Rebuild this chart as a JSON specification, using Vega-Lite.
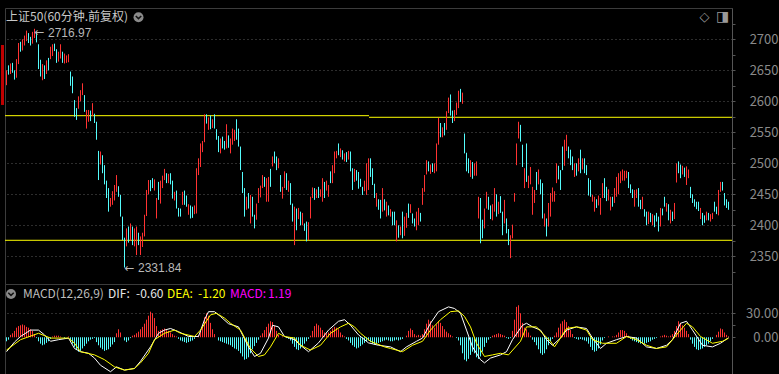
{
"$schema":"https://vega.github.io/schema/vega-lite/v6.json",
"background":"#000000",
"padding":{"left":0,"top":7,"right":2,"bottom":0},
"spacing":0,
"bounds":"flush",
"config":{"view":{"stroke":"#3c3c3c","strokeWidth":1},"axis":{"domainColor":"#555555","tickColor":"#555555","gridColor":"#5a5a5a","gridDash":[1,3],"labelColor":"#8a8a8a","labelFont":"Noto Sans CJK SC","labelFontSize":13,"tickSize":3,"labelOverlap":false},"text":{"font":"Noto Sans CJK SC"}},
"datasets":{
"k":[
{"i":0,"o":2628,"h":2650,"l":2626,"c":2648,"m":-5},{"i":1,"o":2655,"h":2658,"l":2643,"c":2645,"m":-3},{"i":2,"o":2646,"h":2661,"l":2644,"c":2658,"m":3},{"i":3,"o":2658,"h":2662,"l":2646,"c":2648,"m":5},{"i":4,"o":2648,"h":2650,"l":2635,"c":2638,"m":8},{"i":5,"o":2640,"h":2668,"l":2638,"c":2665,"m":12},{"i":6,"o":2664,"h":2694,"l":2660,"c":2690,"m":14},{"i":7,"o":2692,"h":2696,"l":2680,"c":2684,"m":15},{"i":8,"o":2684,"h":2700,"l":2682,"c":2697,"m":16},{"i":9,"o":2694,"h":2706,"l":2690,"c":2703,"m":15},
{"i":10,"o":2700,"h":2714,"l":2697,"c":2712,"m":13},{"i":11,"o":2708,"h":2710,"l":2694,"c":2698,"m":12},{"i":12,"o":2700,"h":2704,"l":2690,"c":2693,"m":10},{"i":13,"o":2695,"h":2712,"l":2693,"c":2710,"m":8},{"i":14,"o":2706,"h":2716.97,"l":2702,"c":2714,"m":4},{"i":15,"o":2710,"h":2712,"l":2695,"c":2698,"m":-1},{"i":16,"o":2690,"h":2692,"l":2652,"c":2660,"m":-5},{"i":17,"o":2662,"h":2667,"l":2640,"c":2645,"m":-8},{"i":18,"o":2638,"h":2660,"l":2634,"c":2655,"m":-10},{"i":19,"o":2656,"h":2658,"l":2636,"c":2642,"m":-9},
{"i":20,"o":2645,"h":2666,"l":2644,"c":2662,"m":-7},{"i":21,"o":2668,"h":2670,"l":2650,"c":2655,"m":-5},{"i":22,"o":2670,"h":2688,"l":2668,"c":2685,"m":-2},{"i":23,"o":2676,"h":2692,"l":2673,"c":2690,"m":1},{"i":24,"o":2691,"h":2693,"l":2681,"c":2684,"m":2},{"i":25,"o":2682,"h":2684,"l":2662,"c":2668,"m":2},{"i":26,"o":2666,"h":2680,"l":2664,"c":2676,"m":2},{"i":27,"o":2672,"h":2692,"l":2669,"c":2690,"m":1},{"i":28,"o":2678,"h":2680,"l":2662,"c":2666,"m":0},{"i":29,"o":2665,"h":2677,"l":2661,"c":2672,"m":-1},
{"i":30,"o":2664,"h":2674,"l":2662,"c":2670,"m":0},{"i":31,"o":2666,"h":2676,"l":2663,"c":2674,"m":1},{"i":32,"o":2646,"h":2648,"l":2625,"c":2628,"m":-4},{"i":33,"o":2635,"h":2640,"l":2613,"c":2618,"m":-8},{"i":34,"o":2600,"h":2602,"l":2575,"c":2580,"m":-12},{"i":35,"o":2585,"h":2589,"l":2570,"c":2572,"m":-16},{"i":36,"o":2590,"h":2608,"l":2588,"c":2606,"m":-18},{"i":37,"o":2602,"h":2618,"l":2600,"c":2615,"m":-17},{"i":38,"o":2612,"h":2629,"l":2610,"c":2628,"m":-14},{"i":39,"o":2608,"h":2610,"l":2583,"c":2585,"m":-11},
{"i":40,"o":2558,"h":2586,"l":2556,"c":2584,"m":-8},{"i":41,"o":2570,"h":2586,"l":2567,"c":2584,"m":-5},{"i":42,"o":2582,"h":2585,"l":2568,"c":2570,"m":-3},{"i":43,"o":2578,"h":2597,"l":2576,"c":2595,"m":-2},{"i":44,"o":2578,"h":2580,"l":2565,"c":2567,"m":-1},{"i":45,"o":2566,"h":2567,"l":2538,"c":2540,"m":-6},{"i":46,"o":2518,"h":2520,"l":2473,"c":2480,"m":-10},{"i":47,"o":2500,"h":2519,"l":2498,"c":2517,"m":-13},{"i":48,"o":2511,"h":2513,"l":2484,"c":2486,"m":-15},{"i":49,"o":2495,"h":2497,"l":2466,"c":2470,"m":-17},
{"i":50,"o":2470,"h":2472,"l":2444,"c":2448,"m":-16},{"i":51,"o":2458,"h":2460,"l":2422,"c":2428,"m":-15},{"i":52,"o":2433,"h":2444,"l":2430,"c":2442,"m":-12},{"i":53,"o":2436,"h":2455,"l":2433,"c":2452,"m":-9},{"i":54,"o":2445,"h":2465,"l":2440,"c":2463,"m":-6},{"i":55,"o":2456,"h":2481,"l":2454,"c":2478,"m":5},{"i":56,"o":2460,"h":2463,"l":2446,"c":2448,"m":10},{"i":57,"o":2445,"h":2449,"l":2414,"c":2418,"m":6},{"i":58,"o":2412,"h":2414,"l":2376,"c":2380,"m":0},{"i":59,"o":2378,"h":2380,"l":2331.84,"c":2345,"m":-4},
{"i":60,"o":2368,"h":2395,"l":2366,"c":2390,"m":-6},{"i":61,"o":2395,"h":2398,"l":2372,"c":2378,"m":-4},{"i":62,"o":2378,"h":2403,"l":2375,"c":2400,"m":-1},{"i":63,"o":2395,"h":2398,"l":2368,"c":2372,"m":2},{"i":64,"o":2370,"h":2395,"l":2366,"c":2390,"m":3},{"i":65,"o":2360,"h":2398,"l":2352,"c":2392,"m":5},{"i":66,"o":2385,"h":2388,"l":2368,"c":2372,"m":7},{"i":67,"o":2358,"h":2382,"l":2352,"c":2380,"m":10},{"i":68,"o":2370,"h":2388,"l":2365,"c":2385,"m":13},{"i":69,"o":2384,"h":2417,"l":2382,"c":2412,"m":17},
{"i":70,"o":2418,"h":2457,"l":2415,"c":2450,"m":22},{"i":71,"o":2452,"h":2473,"l":2450,"c":2468,"m":27},{"i":72,"o":2470,"h":2473,"l":2455,"c":2460,"m":32},{"i":73,"o":2474,"h":2476,"l":2460,"c":2464,"m":30},{"i":74,"o":2460,"h":2474,"l":2456,"c":2470,"m":24},{"i":75,"o":2414,"h":2444,"l":2411,"c":2440,"m":14},{"i":76,"o":2466,"h":2470,"l":2441,"c":2445,"m":8},{"i":77,"o":2438,"h":2472,"l":2435,"c":2470,"m":9},{"i":78,"o":2465,"h":2480,"l":2460,"c":2478,"m":10},{"i":79,"o":2476,"h":2491,"l":2473,"c":2488,"m":11},
{"i":80,"o":2482,"h":2484,"l":2468,"c":2472,"m":9},{"i":81,"o":2470,"h":2483,"l":2468,"c":2480,"m":8},{"i":82,"o":2482,"h":2484,"l":2466,"c":2470,"m":6},{"i":83,"o":2468,"h":2472,"l":2443,"c":2446,"m":4},{"i":84,"o":2442,"h":2454,"l":2440,"c":2452,"m":2},{"i":85,"o":2454,"h":2456,"l":2427,"c":2432,"m":1},{"i":86,"o":2426,"h":2428,"l":2414,"c":2418,"m":-2},{"i":87,"o":2425,"h":2427,"l":2414,"c":2416,"m":-4},{"i":88,"o":2434,"h":2454,"l":2433,"c":2452,"m":-5},{"i":89,"o":2452,"h":2456,"l":2433,"c":2436,"m":-6},
{"i":90,"o":2446,"h":2448,"l":2430,"c":2432,"m":-7},{"i":91,"o":2420,"h":2434,"l":2417,"c":2432,"m":-6},{"i":92,"o":2430,"h":2432,"l":2411,"c":2414,"m":-5},{"i":93,"o":2428,"h":2430,"l":2412,"c":2416,"m":-4},{"i":94,"o":2420,"h":2432,"l":2418,"c":2428,"m":-2},{"i":95,"o":2420,"h":2492,"l":2419,"c":2490,"m":0},{"i":96,"o":2484,"h":2508,"l":2481,"c":2506,"m":3},{"i":97,"o":2496,"h":2532,"l":2494,"c":2530,"m":8},{"i":98,"o":2520,"h":2536,"l":2518,"c":2534,"m":15},{"i":99,"o":2536,"h":2579,"l":2534,"c":2577,"m":25},
{"i":100,"o":2577,"h":2579,"l":2564,"c":2566,"m":30},{"i":101,"o":2558,"h":2574,"l":2554,"c":2570,"m":27},{"i":102,"o":2575,"h":2577,"l":2555,"c":2558,"m":18},{"i":103,"o":2560,"h":2571,"l":2557,"c":2568,"m":10},{"i":104,"o":2570,"h":2579,"l":2556,"c":2560,"m":4},{"i":105,"o":2552,"h":2555,"l":2538,"c":2540,"m":0},{"i":106,"o":2540,"h":2544,"l":2518,"c":2525,"m":-4},{"i":107,"o":2518,"h":2540,"l":2516,"c":2534,"m":-5},{"i":108,"o":2540,"h":2543,"l":2524,"c":2528,"m":-6},{"i":109,"o":2533,"h":2536,"l":2522,"c":2526,"m":-7},
{"i":110,"o":2526,"h":2563,"l":2524,"c":2560,"m":-8},{"i":111,"o":2540,"h":2545,"l":2525,"c":2528,"m":-9},{"i":112,"o":2518,"h":2540,"l":2516,"c":2536,"m":-10},{"i":113,"o":2534,"h":2556,"l":2530,"c":2552,"m":-12},{"i":114,"o":2540,"h":2554,"l":2536,"c":2550,"m":-14},{"i":115,"o":2566,"h":2571,"l":2538,"c":2542,"m":-15},{"i":116,"o":2552,"h":2556,"l":2527,"c":2530,"m":-17},{"i":117,"o":2525,"h":2527,"l":2489,"c":2492,"m":-20},{"i":118,"o":2484,"h":2486,"l":2452,"c":2456,"m":-24},{"i":119,"o":2458,"h":2460,"l":2414,"c":2418,"m":-28},
{"i":120,"o":2427,"h":2446,"l":2425,"c":2444,"m":-27},{"i":121,"o":2450,"h":2452,"l":2427,"c":2430,"m":-25},{"i":122,"o":2405,"h":2449,"l":2403,"c":2446,"m":-20},{"i":123,"o":2444,"h":2446,"l":2414,"c":2418,"m":-15},{"i":124,"o":2415,"h":2417,"l":2395,"c":2398,"m":-11},{"i":125,"o":2412,"h":2435,"l":2409,"c":2432,"m":-7},{"i":126,"o":2440,"h":2460,"l":2436,"c":2458,"m":-3},{"i":127,"o":2448,"h":2464,"l":2445,"c":2462,"m":2},{"i":128,"o":2463,"h":2481,"l":2460,"c":2478,"m":5},{"i":129,"o":2476,"h":2478,"l":2462,"c":2465,"m":9},
{"i":130,"o":2442,"h":2476,"l":2438,"c":2474,"m":13},{"i":131,"o":2445,"h":2478,"l":2438,"c":2470,"m":17},{"i":132,"o":2488,"h":2491,"l":2462,"c":2466,"m":20},{"i":133,"o":2496,"h":2511,"l":2495,"c":2508,"m":19},{"i":134,"o":2516,"h":2519,"l":2500,"c":2502,"m":14},{"i":135,"o":2508,"h":2511,"l":2489,"c":2492,"m":8},{"i":136,"o":2494,"h":2508,"l":2492,"c":2505,"m":3},{"i":137,"o":2478,"h":2481,"l":2454,"c":2458,"m":0},{"i":138,"o":2445,"h":2462,"l":2443,"c":2460,"m":1},{"i":139,"o":2462,"h":2487,"l":2460,"c":2484,"m":0},
{"i":140,"o":2480,"h":2484,"l":2457,"c":2462,"m":-1},{"i":141,"o":2456,"h":2472,"l":2454,"c":2470,"m":-2},{"i":142,"o":2466,"h":2468,"l":2433,"c":2438,"m":-4},{"i":143,"o":2432,"h":2435,"l":2406,"c":2410,"m":-8},{"i":144,"o":2372,"h":2430,"l":2368,"c":2428,"m":-12},{"i":145,"o":2424,"h":2427,"l":2392,"c":2398,"m":-15},{"i":146,"o":2412,"h":2428,"l":2410,"c":2426,"m":-16},{"i":147,"o":2418,"h":2422,"l":2400,"c":2404,"m":-14},{"i":148,"o":2402,"h":2420,"l":2400,"c":2418,"m":-11},{"i":149,"o":2401,"h":2403,"l":2391,"c":2393,"m":-8},
{"i":150,"o":2404,"h":2406,"l":2374,"c":2378,"m":-5},{"i":151,"o":2380,"h":2405,"l":2376,"c":2402,"m":-2},{"i":152,"o":2412,"h":2446,"l":2411,"c":2444,"m":2},{"i":153,"o":2446,"h":2461,"l":2444,"c":2458,"m":8},{"i":154,"o":2458,"h":2460,"l":2441,"c":2444,"m":14},{"i":155,"o":2446,"h":2458,"l":2444,"c":2455,"m":17},{"i":156,"o":2460,"h":2462,"l":2444,"c":2446,"m":15},{"i":157,"o":2448,"h":2458,"l":2446,"c":2456,"m":12},{"i":158,"o":2440,"h":2476,"l":2438,"c":2472,"m":9},{"i":159,"o":2465,"h":2470,"l":2444,"c":2448,"m":6},
{"i":160,"o":2458,"h":2472,"l":2456,"c":2470,"m":5},{"i":161,"o":2448,"h":2465,"l":2446,"c":2462,"m":6},{"i":162,"o":2484,"h":2487,"l":2468,"c":2470,"m":8},{"i":163,"o":2470,"h":2497,"l":2468,"c":2494,"m":11},{"i":164,"o":2488,"h":2519,"l":2484,"c":2515,"m":13},{"i":165,"o":2510,"h":2520,"l":2508,"c":2518,"m":12},{"i":166,"o":2530,"h":2532,"l":2513,"c":2516,"m":10},{"i":167,"o":2512,"h":2524,"l":2510,"c":2520,"m":6},{"i":168,"o":2518,"h":2521,"l":2506,"c":2508,"m":3},{"i":169,"o":2505,"h":2516,"l":2503,"c":2514,"m":1},
{"i":170,"o":2516,"h":2518,"l":2502,"c":2504,"m":-2},{"i":171,"o":2508,"h":2520,"l":2506,"c":2518,"m":-4},{"i":172,"o":2516,"h":2519,"l":2487,"c":2490,"m":-7},{"i":173,"o":2490,"h":2492,"l":2457,"c":2460,"m":-10},{"i":174,"o":2472,"h":2491,"l":2470,"c":2488,"m":-12},{"i":175,"o":2486,"h":2489,"l":2472,"c":2474,"m":-14},{"i":176,"o":2482,"h":2486,"l":2459,"c":2462,"m":-13},{"i":177,"o":2472,"h":2475,"l":2462,"c":2464,"m":-11},{"i":178,"o":2460,"h":2462,"l":2449,"c":2450,"m":-9},{"i":179,"o":2458,"h":2472,"l":2455,"c":2470,"m":-7},
{"i":180,"o":2452,"h":2500,"l":2449,"c":2495,"m":-5},{"i":181,"o":2462,"h":2508,"l":2457,"c":2505,"m":-4},{"i":182,"o":2494,"h":2508,"l":2478,"c":2480,"m":-6},{"i":183,"o":2490,"h":2492,"l":2465,"c":2468,"m":-8},{"i":184,"o":2465,"h":2467,"l":2444,"c":2446,"m":-9},{"i":185,"o":2432,"h":2452,"l":2430,"c":2450,"m":-8},{"i":186,"o":2440,"h":2442,"l":2425,"c":2428,"m":-7},{"i":187,"o":2438,"h":2441,"l":2411,"c":2413,"m":-6},{"i":188,"o":2425,"h":2460,"l":2422,"c":2456,"m":-5},{"i":189,"o":2438,"h":2442,"l":2424,"c":2426,"m":-4},
{"i":190,"o":2418,"h":2438,"l":2414,"c":2436,"m":-3},{"i":191,"o":2428,"h":2432,"l":2416,"c":2418,"m":-4},{"i":192,"o":2416,"h":2426,"l":2414,"c":2424,"m":-5},{"i":193,"o":2420,"h":2422,"l":2400,"c":2402,"m":-5},{"i":194,"o":2416,"h":2422,"l":2400,"c":2404,"m":-4},{"i":195,"o":2378,"h":2408,"l":2374,"c":2404,"m":-3},{"i":196,"o":2396,"h":2400,"l":2380,"c":2384,"m":-4},{"i":197,"o":2386,"h":2398,"l":2384,"c":2396,"m":-3},{"i":198,"o":2412,"h":2422,"l":2379,"c":2385,"m":-2},{"i":199,"o":2386,"h":2414,"l":2383,"c":2410,"m":0},
{"i":200,"o":2400,"h":2420,"l":2396,"c":2418,"m":2},{"i":201,"o":2428,"h":2435,"l":2412,"c":2415,"m":8},{"i":202,"o":2422,"h":2434,"l":2420,"c":2432,"m":11},{"i":203,"o":2416,"h":2419,"l":2403,"c":2405,"m":9},{"i":204,"o":2408,"h":2411,"l":2398,"c":2400,"m":4},{"i":205,"o":2396,"h":2422,"l":2392,"c":2418,"m":2},{"i":206,"o":2402,"h":2428,"l":2400,"c":2425,"m":3},{"i":207,"o":2418,"h":2420,"l":2406,"c":2408,"m":2},{"i":208,"o":2436,"h":2460,"l":2433,"c":2456,"m":4},{"i":209,"o":2456,"h":2481,"l":2454,"c":2478,"m":10},
{"i":210,"o":2484,"h":2505,"l":2482,"c":2502,"m":17},{"i":211,"o":2500,"h":2503,"l":2487,"c":2490,"m":22},{"i":212,"o":2485,"h":2498,"l":2483,"c":2496,"m":20},{"i":213,"o":2496,"h":2500,"l":2486,"c":2488,"m":15},{"i":214,"o":2486,"h":2500,"l":2484,"c":2494,"m":12},{"i":215,"o":2490,"h":2532,"l":2487,"c":2530,"m":16},{"i":216,"o":2532,"h":2573,"l":2530,"c":2570,"m":20},{"i":217,"o":2562,"h":2565,"l":2542,"c":2545,"m":18},{"i":218,"o":2544,"h":2558,"l":2542,"c":2556,"m":14},{"i":219,"o":2562,"h":2565,"l":2545,"c":2548,"m":10},
{"i":220,"o":2556,"h":2584,"l":2554,"c":2582,"m":7},{"i":221,"o":2584,"h":2606,"l":2581,"c":2604,"m":5},{"i":222,"o":2608,"h":2611,"l":2577,"c":2580,"m":3},{"i":223,"o":2582,"h":2585,"l":2565,"c":2568,"m":1},{"i":224,"o":2570,"h":2586,"l":2568,"c":2582,"m":0},{"i":225,"o":2580,"h":2598,"l":2578,"c":2596,"m":-1},{"i":226,"o":2592,"h":2617,"l":2589,"c":2614,"m":-4},{"i":227,"o":2618,"h":2620,"l":2599,"c":2604,"m":-10},{"i":228,"o":2600,"h":2614,"l":2596,"c":2610,"m":-20},{"i":229,"o":2546,"h":2548,"l":2516,"c":2520,"m":-28},
{"i":230,"o":2515,"h":2517,"l":2487,"c":2492,"m":-30},{"i":231,"o":2505,"h":2508,"l":2484,"c":2486,"m":-27},{"i":232,"o":2480,"h":2505,"l":2478,"c":2502,"m":-22},{"i":233,"o":2500,"h":2502,"l":2475,"c":2478,"m":-18},{"i":234,"o":2482,"h":2500,"l":2480,"c":2496,"m":-20},{"i":235,"o":2484,"h":2503,"l":2480,"c":2498,"m":-25},{"i":236,"o":2412,"h":2446,"l":2411,"c":2444,"m":-27},{"i":237,"o":2442,"h":2444,"l":2371,"c":2400,"m":-24},{"i":238,"o":2404,"h":2409,"l":2379,"c":2384,"m":-18},{"i":239,"o":2398,"h":2427,"l":2395,"c":2424,"m":-12},
{"i":240,"o":2430,"h":2454,"l":2427,"c":2452,"m":-7},{"i":241,"o":2440,"h":2446,"l":2425,"c":2428,"m":-3},{"i":242,"o":2430,"h":2432,"l":2410,"c":2414,"m":-1},{"i":243,"o":2412,"h":2434,"l":2408,"c":2430,"m":2},{"i":244,"o":2425,"h":2460,"l":2422,"c":2458,"m":3},{"i":245,"o":2446,"h":2450,"l":2414,"c":2418,"m":4},{"i":246,"o":2420,"h":2438,"l":2418,"c":2436,"m":5},{"i":247,"o":2444,"h":2447,"l":2420,"c":2424,"m":4},{"i":248,"o":2420,"h":2422,"l":2384,"c":2388,"m":3},{"i":249,"o":2405,"h":2441,"l":2403,"c":2438,"m":2},
{"i":250,"o":2408,"h":2411,"l":2387,"c":2390,"m":-1},{"i":251,"o":2392,"h":2394,"l":2368,"c":2372,"m":-2},{"i":252,"o":2355,"h":2384,"l":2347,"c":2378,"m":-1},{"i":253,"o":2382,"h":2401,"l":2379,"c":2398,"m":8},{"i":254,"o":2440,"h":2452,"l":2438,"c":2450,"m":22},{"i":255,"o":2498,"h":2532,"l":2497,"c":2530,"m":38},{"i":256,"o":2542,"h":2567,"l":2540,"c":2560,"m":40},{"i":257,"o":2560,"h":2562,"l":2535,"c":2540,"m":30},{"i":258,"o":2528,"h":2530,"l":2494,"c":2500,"m":18},{"i":259,"o":2462,"h":2492,"l":2460,"c":2490,"m":12},
{"i":260,"o":2530,"h":2532,"l":2470,"c":2475,"m":10},{"i":261,"o":2464,"h":2480,"l":2460,"c":2478,"m":6},{"i":262,"o":2470,"h":2494,"l":2466,"c":2490,"m":2},{"i":263,"o":2420,"h":2462,"l":2417,"c":2460,"m":-3},{"i":264,"o":2438,"h":2457,"l":2436,"c":2454,"m":-6},{"i":265,"o":2484,"h":2486,"l":2457,"c":2460,"m":-10},{"i":266,"o":2468,"h":2490,"l":2466,"c":2488,"m":-15},{"i":267,"o":2470,"h":2474,"l":2450,"c":2452,"m":-20},{"i":268,"o":2466,"h":2468,"l":2411,"c":2420,"m":-22},{"i":269,"o":2400,"h":2419,"l":2398,"c":2418,"m":-20},
{"i":270,"o":2410,"h":2411,"l":2382,"c":2386,"m":-15},{"i":271,"o":2400,"h":2436,"l":2398,"c":2432,"m":-10},{"i":272,"o":2420,"h":2452,"l":2414,"c":2450,"m":-5},{"i":273,"o":2440,"h":2461,"l":2438,"c":2458,"m":-2},{"i":274,"o":2440,"h":2455,"l":2438,"c":2452,"m":2},{"i":275,"o":2470,"h":2500,"l":2468,"c":2498,"m":6},{"i":276,"o":2494,"h":2496,"l":2474,"c":2478,"m":12},{"i":277,"o":2486,"h":2489,"l":2457,"c":2460,"m":17},{"i":278,"o":2522,"h":2527,"l":2489,"c":2492,"m":20},{"i":279,"o":2500,"h":2538,"l":2496,"c":2530,"m":22},
{"i":280,"o":2522,"h":2546,"l":2520,"c":2540,"m":19},{"i":281,"o":2525,"h":2527,"l":2508,"c":2510,"m":14},{"i":282,"o":2518,"h":2522,"l":2497,"c":2500,"m":9},{"i":283,"o":2508,"h":2511,"l":2489,"c":2492,"m":4},{"i":284,"o":2482,"h":2500,"l":2478,"c":2498,"m":-1},{"i":285,"o":2496,"h":2500,"l":2480,"c":2484,"m":-2},{"i":286,"o":2490,"h":2508,"l":2487,"c":2505,"m":-3},{"i":287,"o":2518,"h":2522,"l":2484,"c":2488,"m":-2},{"i":288,"o":2492,"h":2508,"l":2490,"c":2506,"m":-3},{"i":289,"o":2504,"h":2508,"l":2484,"c":2488,"m":-4},
{"i":290,"o":2494,"h":2497,"l":2481,"c":2484,"m":-5},{"i":291,"o":2474,"h":2476,"l":2448,"c":2452,"m":-8},{"i":292,"o":2470,"h":2473,"l":2446,"c":2450,"m":-12},{"i":293,"o":2440,"h":2449,"l":2438,"c":2448,"m":-16},{"i":294,"o":2428,"h":2446,"l":2422,"c":2444,"m":-18},{"i":295,"o":2440,"h":2442,"l":2428,"c":2432,"m":-17},{"i":296,"o":2434,"h":2448,"l":2432,"c":2446,"m":-14},{"i":297,"o":2420,"h":2444,"l":2417,"c":2440,"m":-9},{"i":298,"o":2446,"h":2468,"l":2444,"c":2466,"m":-4},{"i":299,"o":2472,"h":2476,"l":2444,"c":2448,"m":-1},
{"i":300,"o":2458,"h":2462,"l":2439,"c":2442,"m":0},{"i":301,"o":2442,"h":2458,"l":2440,"c":2456,"m":1},{"i":302,"o":2428,"h":2446,"l":2424,"c":2444,"m":0},{"i":303,"o":2444,"h":2446,"l":2430,"c":2434,"m":1},{"i":304,"o":2438,"h":2460,"l":2436,"c":2456,"m":1},{"i":305,"o":2448,"h":2478,"l":2446,"c":2476,"m":3},{"i":306,"o":2454,"h":2484,"l":2450,"c":2482,"m":6},{"i":307,"o":2470,"h":2487,"l":2468,"c":2484,"m":9},{"i":308,"o":2475,"h":2490,"l":2472,"c":2486,"m":9},{"i":309,"o":2474,"h":2488,"l":2472,"c":2484,"m":8},
{"i":310,"o":2480,"h":2488,"l":2476,"c":2486,"m":5},{"i":311,"o":2484,"h":2486,"l":2460,"c":2462,"m":2},{"i":312,"o":2464,"h":2466,"l":2452,"c":2454,"m":-2},{"i":313,"o":2456,"h":2458,"l":2444,"c":2446,"m":-4},{"i":314,"o":2432,"h":2457,"l":2430,"c":2454,"m":-5},{"i":315,"o":2446,"h":2458,"l":2444,"c":2456,"m":-6},{"i":316,"o":2458,"h":2460,"l":2430,"c":2436,"m":-7},{"i":317,"o":2438,"h":2441,"l":2426,"c":2428,"m":-8},{"i":318,"o":2428,"h":2446,"l":2426,"c":2444,"m":-7},{"i":319,"o":2424,"h":2426,"l":2414,"c":2416,"m":-8},
{"i":320,"o":2420,"h":2422,"l":2400,"c":2402,"m":-7},{"i":321,"o":2404,"h":2422,"l":2402,"c":2420,"m":-6},{"i":322,"o":2418,"h":2420,"l":2405,"c":2408,"m":-5},{"i":323,"o":2402,"h":2418,"l":2400,"c":2416,"m":-3},{"i":324,"o":2414,"h":2416,"l":2397,"c":2400,"m":-2},{"i":325,"o":2418,"h":2420,"l":2406,"c":2410,"m":-1},{"i":326,"o":2412,"h":2414,"l":2390,"c":2392,"m":0},{"i":327,"o":2402,"h":2428,"l":2398,"c":2420,"m":1},{"i":328,"o":2425,"h":2427,"l":2416,"c":2418,"m":2},{"i":329,"o":2444,"h":2446,"l":2430,"c":2432,"m":3},
{"i":330,"o":2424,"h":2436,"l":2422,"c":2434,"m":2},{"i":331,"o":2432,"h":2434,"l":2408,"c":2412,"m":1},{"i":332,"o":2404,"h":2425,"l":2403,"c":2422,"m":2},{"i":333,"o":2420,"h":2422,"l":2407,"c":2410,"m":4},{"i":334,"o":2412,"h":2436,"l":2410,"c":2434,"m":8},{"i":335,"o":2470,"h":2500,"l":2469,"c":2498,"m":14},{"i":336,"o":2500,"h":2503,"l":2484,"c":2486,"m":20},{"i":337,"o":2494,"h":2498,"l":2476,"c":2480,"m":18},{"i":338,"o":2484,"h":2496,"l":2482,"c":2494,"m":15},{"i":339,"o":2490,"h":2493,"l":2478,"c":2480,"m":12},
{"i":340,"o":2468,"h":2495,"l":2465,"c":2490,"m":8},{"i":341,"o":2478,"h":2490,"l":2476,"c":2486,"m":4},{"i":342,"o":2460,"h":2462,"l":2444,"c":2446,"m":-3},{"i":343,"o":2448,"h":2450,"l":2436,"c":2438,"m":-8},{"i":344,"o":2440,"h":2442,"l":2430,"c":2432,"m":-12},{"i":345,"o":2436,"h":2438,"l":2426,"c":2428,"m":-15},{"i":346,"o":2436,"h":2438,"l":2423,"c":2426,"m":-16},{"i":347,"o":2412,"h":2428,"l":2410,"c":2426,"m":-15},{"i":348,"o":2418,"h":2420,"l":2400,"c":2404,"m":-14},{"i":349,"o":2414,"h":2416,"l":2404,"c":2408,"m":-12},
{"i":350,"o":2410,"h":2422,"l":2408,"c":2420,"m":-10},{"i":351,"o":2418,"h":2420,"l":2408,"c":2410,"m":-8},{"i":352,"o":2408,"h":2418,"l":2406,"c":2416,"m":-5},{"i":353,"o":2412,"h":2420,"l":2410,"c":2418,"m":-2},{"i":354,"o":2436,"h":2438,"l":2422,"c":2424,"m":0},{"i":355,"o":2428,"h":2430,"l":2418,"c":2420,"m":3},{"i":356,"o":2418,"h":2457,"l":2416,"c":2452,"m":7},{"i":357,"o":2456,"h":2470,"l":2454,"c":2466,"m":11},{"i":358,"o":2466,"h":2470,"l":2456,"c":2458,"m":10},{"i":359,"o":2450,"h":2452,"l":2432,"c":2434,"m":6},
{"i":360,"o":2440,"h":2442,"l":2428,"c":2430,"m":3},{"i":361,"o":2436,"h":2438,"l":2425,"c":2427,"m":1.19}
],
"dif":[
{"i":0,"v":-18},{"i":4,"v":-6},{"i":7,"v":1},{"i":12,"v":9},{"i":16,"v":9},{"i":19,"v":3},{"i":22,"v":-5},{"i":26,"v":-3},{"i":31,"v":-1},{"i":34,"v":-14},{"i":37,"v":-18},{"i":41,"v":-20},{"i":44,"v":-26},{"i":47,"v":-35},{"i":52,"v":-43},{"i":55,"v":-37},{"i":59,"v":-41},{"i":64,"v":-39},{"i":67,"v":-30},{"i":72,"v":-12},{"i":76,"v":5},{"i":79,"v":9},{"i":82,"v":11},{"i":86,"v":7},{"i":91,"v":1},{"i":96,"v":1},{"i":99,"v":22},{"i":101,"v":32},{"i":104,"v":32},{"i":107,"v":26},{"i":111,"v":17},{"i":116,"v":13},{"i":118,"v":3},{"i":121,"v":-12},{"i":124,"v":-24},{"i":127,"v":-20},{"i":131,"v":-1},{"i":133,"v":15},{"i":136,"v":13},{"i":139,"v":1},{"i":144,"v":-3},{"i":147,"v":-10},{"i":151,"v":-18},{"i":156,"v":-7},{"i":161,"v":9},{"i":166,"v":20},{"i":169,"v":22},{"i":172,"v":15},{"i":176,"v":3},{"i":181,"v":-7},{"i":186,"v":-10},{"i":192,"v":-12},{"i":197,"v":-18},{"i":200,"v":-12},{"i":205,"v":-5},{"i":208,"v":-1},{"i":212,"v":17.5},{"i":216,"v":32},{"i":221,"v":38},{"i":224,"v":36},{"i":227,"v":30},{"i":230,"v":9},{"i":233,"v":-12},{"i":237,"v":-28},{"i":239,"v":-32},{"i":242,"v":-26},{"i":247,"v":-22},{"i":250,"v":-18},{"i":253,"v":-3},{"i":258,"v":15},{"i":260,"v":17.5},{"i":263,"v":13},{"i":267,"v":9},{"i":270,"v":-3},{"i":273,"v":-10},{"i":277,"v":-1},{"i":280,"v":9},{"i":285,"v":13},{"i":290,"v":11},{"i":293,"v":-1},{"i":297,"v":-14},{"i":300,"v":-7.5},{"i":305,"v":-3},{"i":310,"v":1},{"i":315,"v":-1},{"i":320,"v":-12},{"i":325,"v":-14},{"i":330,"v":-10},{"i":333,"v":-3},{"i":337,"v":17.5},{"i":340,"v":20},{"i":343,"v":9},{"i":348,"v":-10},{"i":353,"v":-12},{"i":357,"v":-7.5},{"i":361,"v":-0.6}
],
"dea":[
{"i":0,"v":-16},{"i":7,"v":-3},{"i":16,"v":5},{"i":22,"v":-1},{"i":31,"v":-1},{"i":34,"v":-7.5},{"i":37,"v":-18},{"i":44,"v":-22},{"i":49,"v":-28},{"i":54,"v":-37},{"i":59,"v":-41},{"i":64,"v":-39},{"i":67,"v":-32},{"i":71,"v":-20},{"i":74,"v":-3},{"i":79,"v":5},{"i":84,"v":9},{"i":87,"v":5},{"i":94,"v":1},{"i":97,"v":9},{"i":102,"v":28},{"i":105,"v":30},{"i":109,"v":24},{"i":112,"v":17.5},{"i":117,"v":9},{"i":122,"v":-14},{"i":126,"v":-24},{"i":129,"v":-22},{"i":132,"v":-12},{"i":136,"v":5},{"i":139,"v":1},{"i":144,"v":-1},{"i":147,"v":-10},{"i":152,"v":-16},{"i":157,"v":-10},{"i":162,"v":5},{"i":167,"v":13},{"i":171,"v":17.5},{"i":174,"v":13},{"i":177,"v":5},{"i":182,"v":-5},{"i":189,"v":-12},{"i":192,"v":-14},{"i":198,"v":-18},{"i":203,"v":-10},{"i":208,"v":-5},{"i":212,"v":9},{"i":217,"v":22},{"i":222,"v":32},{"i":226,"v":33},{"i":229,"v":26},{"i":232,"v":13},{"i":235,"v":-7.5},{"i":239,"v":-24},{"i":243,"v":-22},{"i":247,"v":-20},{"i":251,"v":-22},{"i":257,"v":-5},{"i":260,"v":13},{"i":265,"v":13},{"i":268,"v":5},{"i":272,"v":-5},{"i":274,"v":-12},{"i":277,"v":-1},{"i":280,"v":11},{"i":285,"v":13},{"i":290,"v":9},{"i":293,"v":-3},{"i":298,"v":-7.5},{"i":305,"v":-7.5},{"i":310,"v":1},{"i":315,"v":-3},{"i":320,"v":-10},{"i":325,"v":-14},{"i":330,"v":-12},{"i":333,"v":-3},{"i":337,"v":9},{"i":340,"v":17.5},{"i":343,"v":13},{"i":347,"v":1},{"i":353,"v":-7.5},{"i":358,"v":-5},{"i":361,"v":-1.2}
]
},
"vconcat":[
{"width":727,"height":276,
"resolve":{"axis":{"y":"independent"}},
"layer":[
{"data":{"values":[{"a":-0.75,"b":181.25,"p":2576.8},{"a":181.25,"b":362.75,"p":2574.2},{"a":-0.75,"b":362.75,"p":2375.8}]},
"mark":{"type":"rule","color":"#ffff00","strokeWidth":1},
"encoding":{"x":{"field":"a","type":"quantitative","axis":null,"scale":{"domain":[-0.75,362.75],"nice":false,"zero":false}},"x2":{"field":"b"},
"y":{"field":"p","type":"quantitative","title":null,"scale":{"domain":[2305.3,2750.5],"nice":false,"zero":false},
"axis":{"orient":"right","values":[2350,2400,2450,2500,2550,2600,2650,2700],"format":"d","grid":true,"labelAlign":"right","labelPadding":43,"labelBaseline":"middle"}}}},
{"data":{"name":"k"},"mark":{"type":"rule","strokeWidth":1},
"encoding":{"x":{"field":"i","type":"quantitative","axis":null},
"y":{"field":"l","type":"quantitative","title":null,"axis":{"orient":"right","values":[2325,2375,2425,2475,2525,2575,2625,2675,2725],"labels":false,"grid":false,"domain":false,"ticks":true}},"y2":{"field":"h"},
"color":{"condition":{"test":"datum.c >= datum.o","value":"#ff3232"},"value":"#54fcfc"}}},
{"data":{"name":"k"},"mark":{"type":"rule","strokeWidth":1},
"encoding":{"x":{"field":"i","type":"quantitative","axis":null},"y":{"field":"o","type":"quantitative","axis":null},"y2":{"field":"c"},
"color":{"condition":{"test":"datum.c >= datum.o","value":"#ff3232"},"value":"#54fcfc"}}},
{"data":{"values":[{}]},"mark":{"type":"rect","color":"#c00000","clip":false},
"encoding":{"x":{"datum":-2.75,"type":"quantitative","axis":null},"x2":{"datum":-1.25},"y":{"datum":2690.8,"type":"quantitative","axis":null},"y2":{"datum":2594.1}}},
{"data":{"values":[{}]},"mark":{"type":"text","text":"←","align":"left","baseline":"middle","dy":3,"fontSize":12,"font":"DejaVu Sans","color":"#b8b8b8"},
"encoding":{"x":{"datum":14,"type":"quantitative","axis":null},"y":{"datum":2716.97,"type":"quantitative","axis":null}}},
{"data":{"values":[{}]},"mark":{"type":"text","text":"2716.97","align":"left","baseline":"middle","dx":13.5,"dy":4,"fontSize":12,"font":"Liberation Sans","color":"#b8b8b8"},
"encoding":{"x":{"datum":14,"type":"quantitative","axis":null},"y":{"datum":2716.97,"type":"quantitative","axis":null}}},
{"data":{"values":[{}]},"mark":{"type":"text","text":"←","align":"left","baseline":"middle","dy":0,"fontSize":12,"font":"DejaVu Sans","color":"#b8b8b8"},
"encoding":{"x":{"datum":59,"type":"quantitative","axis":null},"y":{"datum":2331.84,"type":"quantitative","axis":null}}},
{"data":{"values":[{}]},"mark":{"type":"text","text":"2331.84","align":"left","baseline":"middle","dx":13.5,"dy":0,"fontSize":12,"font":"Liberation Sans","color":"#b8b8b8"},
"encoding":{"x":{"datum":59,"type":"quantitative","axis":null},"y":{"datum":2331.84,"type":"quantitative","axis":null}}},
{"data":{"values":[{}]},"mark":{"type":"text","text":"上证50(60分钟.前复权)","align":"left","baseline":"middle","fontSize":12,"color":"#c8c8c8"},
"encoding":{"x":{"datum":-0.25,"type":"quantitative","axis":null},"y":{"datum":2736,"type":"quantitative","axis":null}}},
{"data":{"values":[{}]},"mark":{"type":"point","shape":"circle","filled":true,"color":"#8a8a8a","size":100,"opacity":1},
"encoding":{"x":{"datum":66,"type":"quantitative","axis":null},"y":{"datum":2735.5,"type":"quantitative","axis":null}}},
{"data":{"values":[{}]},"mark":{"type":"point","shape":"M-1,-0.45L0,0.5L1,-0.45","filled":false,"stroke":"#111111","strokeWidth":1.5,"size":30,"opacity":1},
"encoding":{"x":{"datum":66,"type":"quantitative","axis":null},"y":{"datum":2735.5,"type":"quantitative","axis":null}}},
{"data":{"values":[{}]},"mark":{"type":"text","text":"◇","align":"center","baseline":"middle","fontSize":13,"font":"DejaVu Sans","color":"#9a9a9a"},
"encoding":{"x":{"datum":349,"type":"quantitative","axis":null},"y":{"datum":2736,"type":"quantitative","axis":null}}},
{"data":{"values":[{}]},"mark":{"type":"text","text":"◨","align":"center","baseline":"middle","fontSize":14,"font":"DejaVu Sans","color":"#9a9a9a"},
"encoding":{"x":{"datum":358,"type":"quantitative","axis":null},"y":{"datum":2736,"type":"quantitative","axis":null}}}
]},
{"width":727,"height":90,
"layer":[
{"data":{"name":"k"},"mark":{"type":"rule","strokeWidth":1},
"encoding":{"x":{"field":"i","type":"quantitative","axis":null,"scale":{"domain":[-0.75,362.75],"nice":false,"zero":false}},
"y":{"field":"m","type":"quantitative","title":null,"scale":{"domain":[-45.9,66.6],"nice":false,"zero":false},
"axis":{"orient":"right","values":[0,15,30],"labelExpr":"datum.value === 15 ? '' : format(datum.value, '.2f')","grid":true,"gridOpacity":{"condition":{"test":"datum.value === 30","value":1},"value":0},"labelAlign":"right","labelPadding":43,"labelBaseline":"middle"}},
"y2":{"datum":0},
"color":{"condition":{"test":"datum.m >= 0","value":"#ff3232"},"value":"#54fcfc"}}},
{"data":{"name":"dif"},"mark":{"type":"line","color":"#ffffff","strokeWidth":1},
"encoding":{"x":{"field":"i","type":"quantitative","axis":null},"y":{"field":"v","type":"quantitative","title":null}}},
{"data":{"name":"dea"},"mark":{"type":"line","color":"#ffff00","strokeWidth":1},
"encoding":{"x":{"field":"i","type":"quantitative","axis":null},"y":{"field":"v","type":"quantitative","title":null}}},
{"data":{"values":[{}]},"mark":{"type":"point","shape":"circle","filled":true,"color":"#8a8a8a","size":100,"opacity":1},
"encoding":{"x":{"datum":2.25,"type":"quantitative","axis":null},"y":{"datum":54.1,"type":"quantitative"}}},
{"data":{"values":[{}]},"mark":{"type":"point","shape":"M-1,-0.45L0,0.5L1,-0.45","filled":false,"stroke":"#111111","strokeWidth":1.5,"size":30,"opacity":1},
"encoding":{"x":{"datum":2.25,"type":"quantitative","axis":null},"y":{"datum":54.1,"type":"quantitative"}}},
{"data":{"values":[{}]},"mark":{"type":"text","text":"MACD(12,26,9)","align":"left","baseline":"middle","fontSize":12,"color":"#bdbdbd"},
"encoding":{"x":{"datum":8.25,"type":"quantitative","axis":null},"y":{"datum":54.1,"type":"quantitative"}}},
{"data":{"values":[{}]},"mark":{"type":"text","text":"DIF:","align":"left","baseline":"middle","fontSize":12,"color":"#e6e6e6"},
"encoding":{"x":{"datum":50.75,"type":"quantitative","axis":null},"y":{"datum":54.1,"type":"quantitative"}}},
{"data":{"values":[{}]},"mark":{"type":"text","text":"-0.60","align":"left","baseline":"middle","fontSize":12,"color":"#e6e6e6"},
"encoding":{"x":{"datum":64.75,"type":"quantitative","axis":null},"y":{"datum":54.1,"type":"quantitative"}}},
{"data":{"values":[{}]},"mark":{"type":"text","text":"DEA:","align":"left","baseline":"middle","fontSize":12,"color":"#ffff00"},
"encoding":{"x":{"datum":80.25,"type":"quantitative","axis":null},"y":{"datum":54.1,"type":"quantitative"}}},
{"data":{"values":[{}]},"mark":{"type":"text","text":"-1.20","align":"left","baseline":"middle","fontSize":12,"color":"#ffff00"},
"encoding":{"x":{"datum":95.75,"type":"quantitative","axis":null},"y":{"datum":54.1,"type":"quantitative"}}},
{"data":{"values":[{}]},"mark":{"type":"text","text":"MACD:","align":"left","baseline":"middle","fontSize":12,"color":"#ff00ff"},
"encoding":{"x":{"datum":111.75,"type":"quantitative","axis":null},"y":{"datum":54.1,"type":"quantitative"}}},
{"data":{"values":[{}]},"mark":{"type":"text","text":"1.19","align":"left","baseline":"middle","fontSize":12,"color":"#ff00ff"},
"encoding":{"x":{"datum":130.75,"type":"quantitative","axis":null},"y":{"datum":54.1,"type":"quantitative"}}}
]}
]
}
